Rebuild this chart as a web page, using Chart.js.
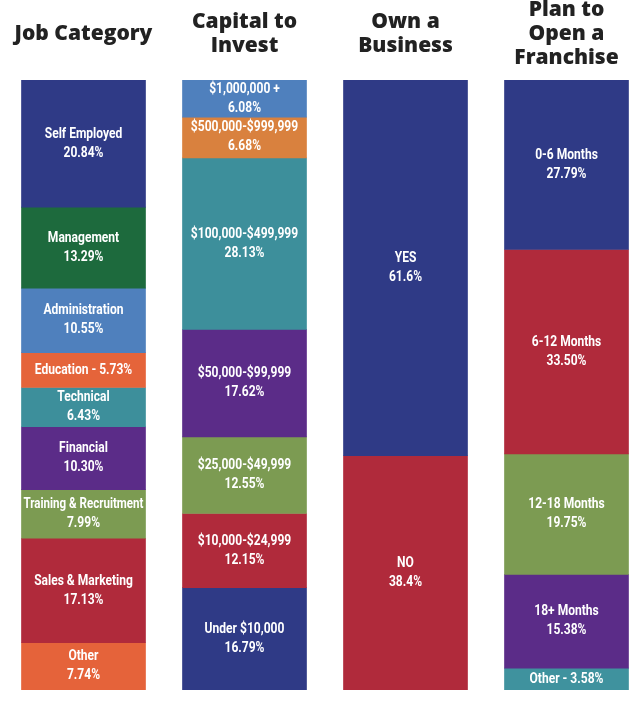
<!DOCTYPE html>
<html>
<head>
<meta charset="utf-8">
<script src="https://cdn.jsdelivr.net/npm/chart.js@4"></script>
<style>
  html, body { margin: 0; padding: 0; background: #fff; }
  #wrap { width: 641px; height: 702px; overflow: hidden; }
  #chart { display: block; }
</style>
</head>
<body>
<div id="wrap"><canvas id="chart" width="647" height="702"></canvas></div>
<script>
const columns = [
    ["Job Category"],
    ["Capital to", "Invest"],
    ["Own a", "Business"],
    ["Plan to", "Open a", "Franchise"],
];

const jobLabels = [
    ["Self Employed", "20.84%"], ["Management", "13.29%"], ["Administration", "10.55%"],
    ["Education - 5.73%"], ["Technical", "6.43%"], ["Financial", "10.30%"],
    ["Training & Recruitment", "7.99%"], ["Sales & Marketing", "17.13%"], ["Other", "7.74%"],
];
const jobValues = [20.84, 13.29, 10.55, 5.73, 6.43, 10.30, 7.99, 17.13, 7.74];
const jobColors = ["#2f3a86", "#1d6a3d", "#4f80bd", "#e5643a", "#3d8f9b", "#5b2c88", "#7c9b52", "#b02a3b", "#e5633a"];

const capitalLabels = [
    ["$1,000,000 +", "6.08%"], ["$500,000-$999,999", "6.68%"], ["$100,000-$499,999", "28.13%"],
    ["$50,000-$99,999", "17.62%"], ["$25,000-$49,999", "12.55%"], ["$10,000-$24,999", "12.15%"],
    ["Under $10,000", "16.79%"],
];
const capitalValues = [6.08, 6.68, 28.13, 17.62, 12.55, 12.15, 16.79];
const capitalColors = ["#4f80bd", "#d9813e", "#3d8f9b", "#5b2c88", "#7c9b52", "#b02a3b", "#2f3a86"];

const ownLabels = [["YES", "61.6%"], ["NO", "38.4%"]];
const ownValues = [61.6, 38.4];
const ownColors = ["#2f3a86", "#b02a3b"];

const planLabels = [
    ["0-6 Months", "27.79%"], ["6-12 Months", "33.50%"], ["12-18 Months", "19.75%"],
    ["18+ Months", "15.38%"], ["Other - 3.58%"],
];
const planValues = [27.79, 33.50, 19.75, 15.38, 3.58];
const planColors = ["#2f3a86", "#b02a3b", "#7c9b52", "#5b2c88", "#3f929e"];

const groups = [
    [jobLabels, jobValues, jobColors],
    [capitalLabels, capitalValues, capitalColors],
    [ownLabels, ownValues, ownColors],
    [planLabels, planValues, planColors],
];

const datasets = [];
groups.forEach(([labels, values, colors], col) => {
    values.forEach((v, i) => {
        const data = columns.map(() => null);
        data[col] = v;
        datasets.push({
            label: labels[i].join(" "),
            lines: labels[i],
            data: data,
            backgroundColor: colors[i],
            borderWidth: 0,
            barThickness: 124,
            stack: "s",
        });
    });
});

// narrow bold text, squeezed to fit the bar
const SQUEEZE = 0.86;

const segmentText = {
    id: "segmentText",
    afterDatasetsDraw(chart) {
        const ctx = chart.ctx;
        ctx.save();
        ctx.fillStyle = "#ffffff";
        ctx.font = "bold 14px Roboto, sans-serif";
        ctx.textAlign = "center";
        ctx.textBaseline = "middle";
        chart.data.datasets.forEach((ds, di) => {
            chart.getDatasetMeta(di).data.forEach((bar, idx) => {
                if (ds.data[idx] == null) return;
                const mid = (bar.y + bar.base) / 2;
                const lh = 19;
                const start = mid - (ds.lines.length - 1) * lh / 2;
                ds.lines.forEach((t, k) => {
                    ctx.save();
                    ctx.translate(bar.x, start + k * lh);
                    ctx.scale(SQUEEZE, 1);
                    ctx.fillText(t, 0, 0, 120 / SQUEEZE);
                    ctx.restore();
                });
            });
        });
        ctx.restore();
    },
};

const headers = {
    id: "headers",
    afterDraw(chart) {
        const ctx = chart.ctx;
        const x = chart.scales.x;
        ctx.save();
        ctx.fillStyle = "#222222";
        ctx.font = "800 21px 'Open Sans', sans-serif";
        ctx.textAlign = "center";
        ctx.textBaseline = "middle";
        columns.forEach((lines, i) => {
            const cx = x.getPixelForValue(i);
            const lh = 24;
            const start = 34 - (lines.length - 1) * lh / 2;
            lines.forEach((t, k) => ctx.fillText(t, cx, start + k * lh));
        });
        ctx.restore();
    },
};

new Chart(document.getElementById("chart").getContext("2d"), {
    type: "bar",
    data: {
        labels: columns.map(c => c.join(" ")),
        datasets: datasets,
    },
    options: {
        responsive: false,
        animation: false,
        layout: { padding: { top: 80, bottom: 12, left: 3, right: 0 } },
        plugins: { legend: { display: false }, tooltip: { enabled: false } },
        scales: {
            x: { stacked: true, display: false },
            y: { stacked: true, display: false, reverse: true, min: 0, max: 100 },
        },
    },
    plugins: [segmentText, headers],
});
</script>
</body>
</html>
